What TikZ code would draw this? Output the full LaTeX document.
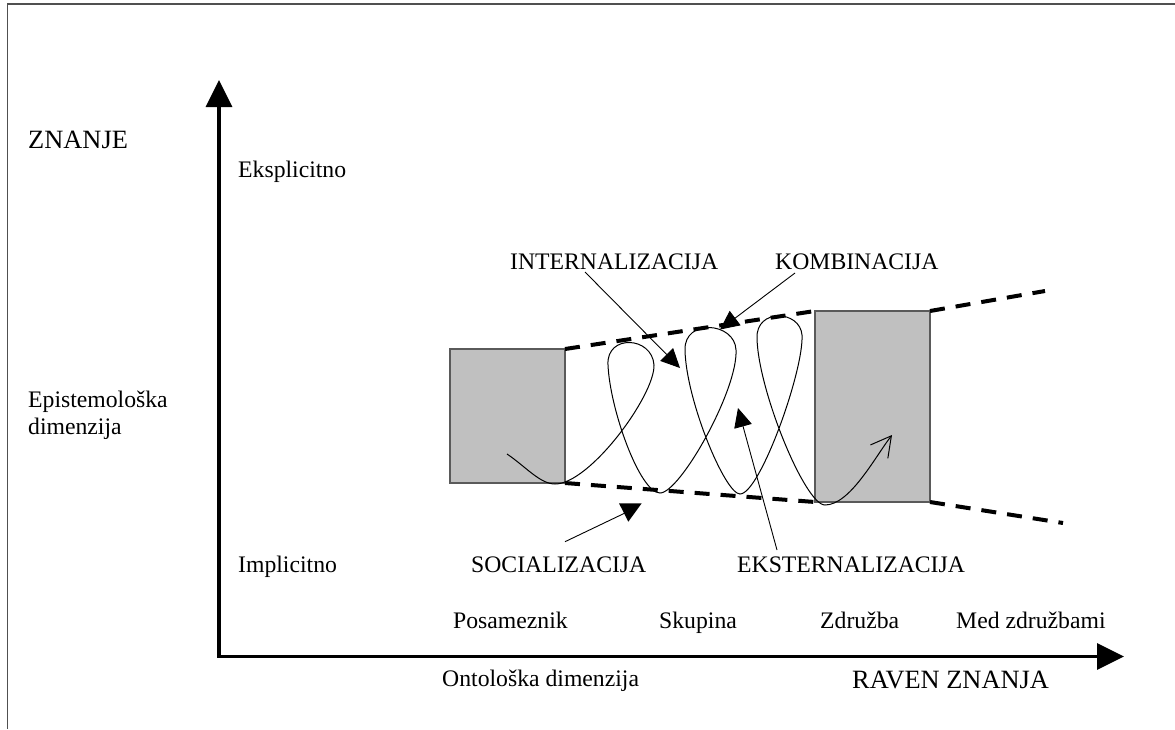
\documentclass[tikz,border=0pt]{standalone}
\usepackage{fontspec}
\setmainfont{Liberation Serif}
\usetikzlibrary{arrows.meta}
\definecolor{boxfill}{RGB}{192,192,192}
\definecolor{boxedge}{RGB}{90,90,90}
\definecolor{framegray}{RGB}{80,80,80}
\begin{document}
\begin{tikzpicture}[x=1pt,y=-1pt,
  lbl/.style={anchor=base west, inner sep=0pt, font=\fontsize{23.7}{27}\selectfont},
  biglbl/.style={lbl, font=\fontsize{26.4}{30}\selectfont},
  box/.style={draw=boxedge, fill=boxfill, line width=1.4pt, inner sep=0pt, outer sep=0pt},
  bound/.style={line width=4pt, dash pattern=on 15pt off 11pt},
  axis/.style={line width=3.5pt, line join=miter,
    {Triangle[length=27pt,width=26pt]}-{Triangle[length=27pt,width=26pt]}},
  pointer/.style={line width=0.9pt, -{Triangle[length=19pt,width=18pt]}},
  spiral/.style={line width=1pt}
]
% page extent and frame
\useasboundingbox (0,0) rectangle (1175,729);
\draw[framegray, line width=1.3pt] (1175,4) -- (7.5,4) -- (7.5,729);

% axes
\coordinate (ytip) at (219,80);
\coordinate (origin) at (219,656.5);
\coordinate (xtip) at (1124,656.5);
\draw[axis] (ytip) -- (origin) -- (xtip);

% knowledge levels: boxes
\node[box, minimum width=115pt, minimum height=134pt] (lbox) at (507.5,416) {};
\node[box, minimum width=115pt, minimum height=191pt] (rbox) at (872.5,406.5) {};

% dashed boundaries of the widening cone
\coordinate (uend) at (1045,291);
\coordinate (lend) at (1063,523);
\draw[bound] (lbox.north east) -- (rbox.north west);
\draw[bound] (lbox.south east) -- (rbox.south west);
\draw[bound] (rbox.north east) -- (uend);
\draw[bound] (rbox.south east) -- (lend);

% knowledge spiral
\draw[spiral, -{Straight Barb[length=20pt,width=22pt]}]
  (507,454) .. controls (525,466) and (540,484) .. (555,484)
  .. controls (590,484) and (655,395) .. (654,365)
  .. controls (652,336) and (606,334) .. (608,365)
  .. controls (610,410) and (640,493) .. (660,493)
  .. controls (680,493) and (738,390) .. (736,350)
  .. controls (735,322) and (684,318) .. (685,350)
  .. controls (686,400) and (725,494) .. (740,494)
  .. controls (760,494) and (804,370) .. (802,335)
  .. controls (800,310) and (756,308) .. (757,338)
  .. controls (758,390) and (805,505) .. (825,505)
  .. controls (850,505) and (875,457) .. (892,435);

% labels
\node[biglbl] (znanje) at (28,148) {ZNANJE};
\node[lbl] (eksp) at (238,177) {Eksplicitno};
\node[lbl] (epi) at (28,407) {Epistemološka};
\node[lbl] (dim) at (28,434) {dimenzija};
\node[lbl] (impl) at (238,572) {Implicitno};
\node[lbl] (int) at (510,269) {INTERNALIZACIJA};
\node[lbl] (komb) at (775,269) {KOMBINACIJA};
\node[lbl] (soc) at (471,572) {SOCIALIZACIJA};
\node[lbl] (eks) at (737,572) {EKSTERNALIZACIJA};
\node[lbl] (pos) at (453,628) {Posameznik};
\node[lbl] (sku) at (659,628) {Skupina};
\node[lbl] (zdr) at (820,628) {Združba};
\node[lbl] (med) at (956,628) {Med združbami};
\node[lbl] (onto) at (442,686) {Ontološka dimenzija};
\node[biglbl] (raven) at (852,688) {RAVEN ZNANJA};

% pointers from the mode labels
\coordinate (intS) at (585,272);
\coordinate (intT) at (680,368);
\draw[pointer] (intS) -- (intT);
\coordinate (kombS) at (795,273);
\coordinate (kombT) at (720,329.5);
\draw[pointer] (kombS) -- (kombT);
\coordinate (eksS) at (777,550);
\coordinate (eksT) at (738,408);
\draw[pointer] (eksS) -- (eksT);
\coordinate (socS) at (565,541.7);
\coordinate (socT) at (625,513);
\draw[line width=0.9pt] (socS) -- (socT);
\fill (619,503.3) -- (641.7,503.3) -- (628.3,521.7) -- cycle;
\end{tikzpicture}
\end{document}
